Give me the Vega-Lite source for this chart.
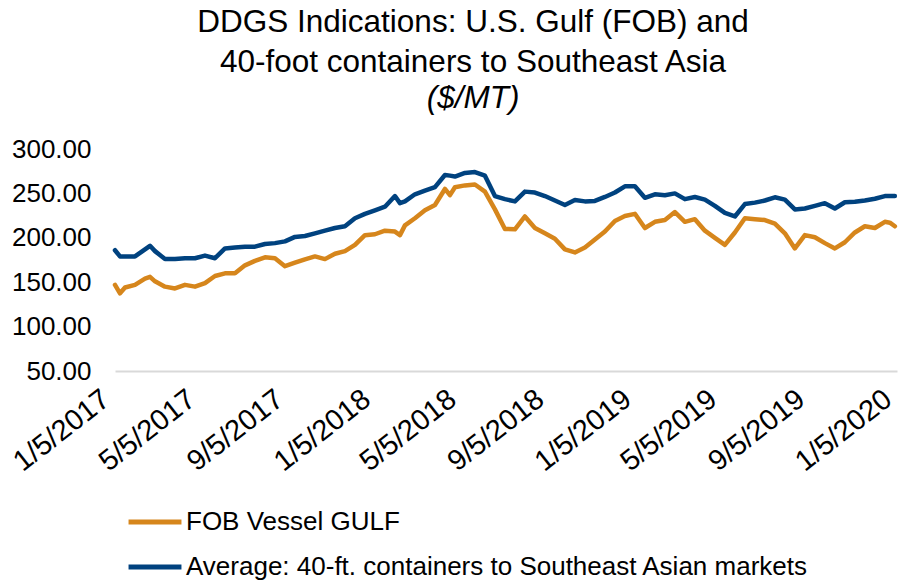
{
  "$schema": "https://vega.github.io/schema/vega-lite/v6.json",
  "autosize": {"type": "none"},
  "width": 782,
  "height": 222,
  "padding": {"left": 115, "top": 149, "right": 2, "bottom": 211},
  "background": "white",
  "config": {
    "font": "Liberation Sans",
    "view": {"stroke": null}
  },
  "title": {
    "text": ["DDGS Indications: U.S. Gulf (FOB) and", "40-foot containers to Southeast Asia"],
    "subtitle": "($/MT)",
    "anchor": "middle",
    "frame": "group",
    "dx": -33,
    "fontSize": 31.5,
    "fontWeight": "normal",
    "lineHeight": 40,
    "color": "black",
    "subtitleFontSize": 31.5,
    "subtitleFontStyle": "italic",
    "subtitleColor": "black",
    "subtitlePadding": 4,
    "offset": 22
  },
  "data": {
    "values": [
      {"date": "2017-01-05", "fob": 147, "avg": 186},
      {"date": "2017-01-12", "fob": 137.5, "avg": 179},
      {"date": "2017-01-19", "fob": 144, "avg": 179},
      {"date": "2017-02-02", "fob": 147, "avg": 179},
      {"date": "2017-02-16", "fob": 154, "avg": 187},
      {"date": "2017-02-23", "fob": 156, "avg": 191},
      {"date": "2017-03-02", "fob": 151, "avg": 185},
      {"date": "2017-03-16", "fob": 145, "avg": 176},
      {"date": "2017-03-30", "fob": 143, "avg": 176},
      {"date": "2017-04-13", "fob": 147, "avg": 177},
      {"date": "2017-04-27", "fob": 145, "avg": 177},
      {"date": "2017-05-11", "fob": 149, "avg": 180},
      {"date": "2017-05-25", "fob": 157, "avg": 177},
      {"date": "2017-06-08", "fob": 160, "avg": 188},
      {"date": "2017-06-22", "fob": 160, "avg": 189},
      {"date": "2017-07-06", "fob": 169, "avg": 190},
      {"date": "2017-07-20", "fob": 174, "avg": 190},
      {"date": "2017-08-03", "fob": 178, "avg": 193},
      {"date": "2017-08-17", "fob": 177, "avg": 194},
      {"date": "2017-08-31", "fob": 168, "avg": 196},
      {"date": "2017-09-14", "fob": 172, "avg": 201},
      {"date": "2017-09-28", "fob": 175.8, "avg": 202},
      {"date": "2017-10-12", "fob": 179, "avg": 205},
      {"date": "2017-10-26", "fob": 176, "avg": 208},
      {"date": "2017-11-09", "fob": 182, "avg": 211},
      {"date": "2017-11-23", "fob": 185, "avg": 213},
      {"date": "2017-12-07", "fob": 192, "avg": 222},
      {"date": "2017-12-21", "fob": 203, "avg": 227},
      {"date": "2018-01-04", "fob": 204, "avg": 231},
      {"date": "2018-01-18", "fob": 208, "avg": 235},
      {"date": "2018-02-01", "fob": 207, "avg": 247},
      {"date": "2018-02-08", "fob": 203, "avg": 239},
      {"date": "2018-02-15", "fob": 214, "avg": 241},
      {"date": "2018-03-01", "fob": 222, "avg": 249},
      {"date": "2018-03-15", "fob": 231, "avg": 253},
      {"date": "2018-03-29", "fob": 237, "avg": 257},
      {"date": "2018-04-12", "fob": 255, "avg": 270.7},
      {"date": "2018-04-19", "fob": 248, "avg": 270},
      {"date": "2018-04-26", "fob": 257, "avg": 269},
      {"date": "2018-05-10", "fob": 259, "avg": 273},
      {"date": "2018-05-24", "fob": 260, "avg": 274},
      {"date": "2018-06-07", "fob": 252, "avg": 270},
      {"date": "2018-06-21", "fob": 232, "avg": 247},
      {"date": "2018-07-05", "fob": 210, "avg": 243.5},
      {"date": "2018-07-19", "fob": 209.6, "avg": 241},
      {"date": "2018-08-02", "fob": 224, "avg": 252},
      {"date": "2018-08-16", "fob": 211, "avg": 251},
      {"date": "2018-08-30", "fob": 205, "avg": 247},
      {"date": "2018-09-13", "fob": 199, "avg": 242},
      {"date": "2018-09-27", "fob": 187, "avg": 237},
      {"date": "2018-10-11", "fob": 183.5, "avg": 242.5},
      {"date": "2018-10-25", "fob": 189, "avg": 241},
      {"date": "2018-11-08", "fob": 198, "avg": 241.5},
      {"date": "2018-11-22", "fob": 207, "avg": 246},
      {"date": "2018-12-06", "fob": 219, "avg": 251},
      {"date": "2018-12-20", "fob": 224.5, "avg": 258},
      {"date": "2019-01-03", "fob": 227, "avg": 258},
      {"date": "2019-01-17", "fob": 211, "avg": 245},
      {"date": "2019-01-31", "fob": 218, "avg": 249},
      {"date": "2019-02-14", "fob": 220, "avg": 248},
      {"date": "2019-02-28", "fob": 229, "avg": 250},
      {"date": "2019-03-14", "fob": 218, "avg": 243.5},
      {"date": "2019-03-28", "fob": 221, "avg": 246},
      {"date": "2019-04-11", "fob": 208, "avg": 243},
      {"date": "2019-04-25", "fob": 200, "avg": 236},
      {"date": "2019-05-09", "fob": 192, "avg": 228},
      {"date": "2019-05-23", "fob": 206, "avg": 224},
      {"date": "2019-06-06", "fob": 222, "avg": 238},
      {"date": "2019-06-20", "fob": 221, "avg": 239.6},
      {"date": "2019-07-04", "fob": 220, "avg": 242},
      {"date": "2019-07-18", "fob": 216, "avg": 245.6},
      {"date": "2019-08-01", "fob": 205, "avg": 243},
      {"date": "2019-08-15", "fob": 188, "avg": 232},
      {"date": "2019-08-29", "fob": 203, "avg": 233},
      {"date": "2019-09-12", "fob": 200.6, "avg": 236},
      {"date": "2019-09-26", "fob": 194, "avg": 239},
      {"date": "2019-10-10", "fob": 188, "avg": 233},
      {"date": "2019-10-24", "fob": 195, "avg": 240},
      {"date": "2019-11-07", "fob": 206, "avg": 240.5},
      {"date": "2019-11-21", "fob": 213, "avg": 242},
      {"date": "2019-12-05", "fob": 211, "avg": 244},
      {"date": "2019-12-19", "fob": 218, "avg": 247},
      {"date": "2019-12-26", "fob": 217, "avg": 247},
      {"date": "2020-01-02", "fob": 213, "avg": 247}
    ]
  },
  "transform": [{"fold": ["fob", "avg"], "as": ["series", "price"]}],
  "mark": {"type": "line", "strokeWidth": 4.5, "strokeJoin": "round", "strokeCap": "round"},
  "encoding": {
    "x": {
      "field": "date",
      "type": "temporal",
      "scale": {
        "type": "utc",
        "domain": [
          {"year": 2017, "month": 1, "date": 5, "utc": true},
          {"year": 2020, "month": 1, "date": 5, "utc": true}
        ]
      },
      "axis": {
        "title": null,
        "labelExpr": "utcFormat(datum.value, '%-m/%-d/%Y')",
        "values": [
          {"year": 2017, "month": 1, "date": 5, "utc": true},
          {"year": 2017, "month": 5, "date": 5, "utc": true},
          {"year": 2017, "month": 9, "date": 5, "utc": true},
          {"year": 2018, "month": 1, "date": 5, "utc": true},
          {"year": 2018, "month": 5, "date": 5, "utc": true},
          {"year": 2018, "month": 9, "date": 5, "utc": true},
          {"year": 2019, "month": 1, "date": 5, "utc": true},
          {"year": 2019, "month": 5, "date": 5, "utc": true},
          {"year": 2019, "month": 9, "date": 5, "utc": true},
          {"year": 2020, "month": 1, "date": 5, "utc": true}
        ],
        "labelAngle": -38,
        "labelAlign": "right",
        "labelBaseline": "bottom",
        "labelFontSize": 29,
        "labelColor": "black",
        "labelFont": "Liberation Sans",
        "labelPadding": 36,
        "labelOverlap": false,
        "labelBound": false,
        "labelFlush": false,
        "ticks": false,
        "grid": false,
        "domainColor": "#D9D9D9",
        "domainWidth": 2
      }
    },
    "y": {
      "field": "price",
      "type": "quantitative",
      "scale": {"domain": [50, 300], "nice": false, "zero": false},
      "axis": {
        "title": null,
        "values": [50, 100, 150, 200, 250, 300],
        "format": ".2f",
        "labelFontSize": 26,
        "labelColor": "black",
        "labelPadding": 24,
        "ticks": false,
        "grid": false,
        "domain": false
      }
    },
    "color": {
      "field": "series",
      "type": "nominal",
      "scale": {"domain": ["fob", "avg"], "range": ["#D6861C", "#00427F"]},
      "legend": {
        "title": null,
        "orient": "none",
        "legendX": 11,
        "legendY": 344,
        "direction": "vertical",
        "symbolType": "stroke",
        "symbolSize": 2800,
        "symbolStrokeWidth": 5,
        "labelFontSize": 26,
        "labelColor": "black",
        "labelOffset": 2,
        "rowPadding": 3,
        "labelLimit": 0,
        "labelExpr": "datum.label == 'fob' ? 'FOB Vessel GULF' : 'Average: 40-ft. containers to Southeast Asian markets'"
      }
    }
  }
}
